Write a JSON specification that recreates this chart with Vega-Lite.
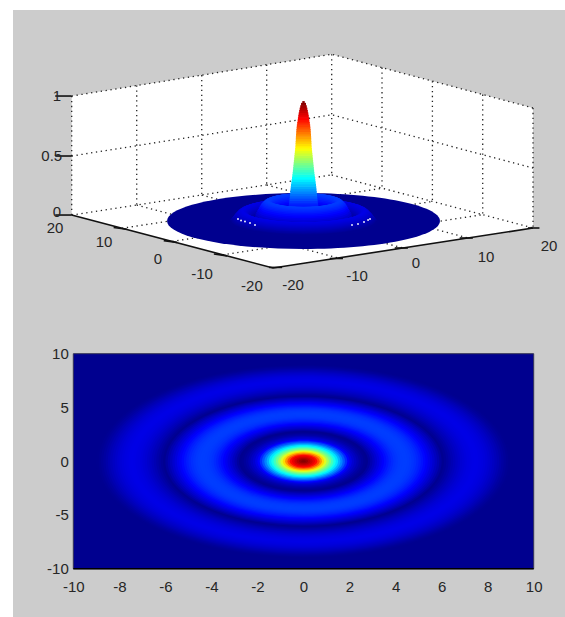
{"$schema":"https://vega.github.io/schema/vega-lite/v6.json","width":552,"height":607,"autosize":"none","padding":{"left":13,"top":10,"right":0,"bottom":0},"background":"white","view":{"fill":"#cccccc","stroke":null},
"config":{"axis":{"grid":false,"domain":false,"ticks":false,"labelFont":"Liberation Sans","labelFontSize":15,"labelColor":"#262626","title":null,"labelOverlap":false,"labelFlush":false}},
"datasets":{"profile":[{"r":16.6,"v":0},{"r":9.0,"v":0.001},{"r":8.9,"v":0.005},{"r":8.8,"v":0.011},{"r":8.7,"v":0.018},{"r":8.6,"v":0.026},{"r":8.5,"v":0.034},{"r":8.4,"v":0.042},{"r":8.3,"v":0.05},{"r":8.2,"v":0.057},{"r":8.1,"v":0.064},{"r":8.0,"v":0.07},{"r":7.9,"v":0.075},{"r":7.8,"v":0.079},{"r":7.7,"v":0.082},{"r":7.6,"v":0.084},{"r":7.5,"v":0.085},{"r":7.4,"v":0.084},{"r":7.3,"v":0.082},{"r":7.2,"v":0.08},{"r":7.1,"v":0.076},{"r":7.0,"v":0.071},{"r":6.9,"v":0.066},{"r":6.8,"v":0.059},{"r":6.7,"v":0.052},{"r":6.6,"v":0.044},{"r":6.5,"v":0.036},{"r":6.4,"v":0.027},{"r":6.3,"v":0.018},{"r":6.2,"v":0.009},{"r":6.1,"v":0.002},{"r":6.0,"v":0.016},{"r":5.9,"v":0.032},{"r":5.8,"v":0.047},{"r":5.7,"v":0.062},{"r":5.6,"v":0.076},{"r":5.5,"v":0.09},{"r":5.4,"v":0.103},{"r":5.3,"v":0.116},{"r":5.2,"v":0.127},{"r":5.1,"v":0.137},{"r":5.0,"v":0.146},{"r":4.9,"v":0.154},{"r":4.8,"v":0.16},{"r":4.7,"v":0.165},{"r":4.6,"v":0.168},{"r":4.5,"v":0.17},{"r":4.4,"v":0.17},{"r":4.3,"v":0.169},{"r":4.2,"v":0.167},{"r":4.1,"v":0.163},{"r":4.0,"v":0.158},{"r":3.9,"v":0.15},{"r":3.8,"v":0.141},{"r":3.7,"v":0.131},{"r":3.6,"v":0.12},{"r":3.5,"v":0.107},{"r":3.4,"v":0.094},{"r":3.3,"v":0.08},{"r":3.2,"v":0.065},{"r":3.1,"v":0.049},{"r":3.0,"v":0.033},{"r":2.9,"v":0.016},{"r":2.8,"v":0.001},{"r":2.7,"v":0.004},{"r":2.6,"v":0.012},{"r":2.5,"v":0.022},{"r":2.4,"v":0.035},{"r":2.3,"v":0.05},{"r":2.2,"v":0.065},{"r":2.1,"v":0.085},{"r":2.0,"v":0.11},{"r":1.9,"v":0.15},{"r":1.8,"v":0.195},{"r":1.7,"v":0.24},{"r":1.6,"v":0.285},{"r":1.5,"v":0.335},{"r":1.4,"v":0.38},{"r":1.3,"v":0.425},{"r":1.2,"v":0.47},{"r":1.1,"v":0.52},{"r":1.0,"v":0.575},{"r":0.9,"v":0.645},{"r":0.8,"v":0.715},{"r":0.7,"v":0.785},{"r":0.6,"v":0.85},{"r":0.5,"v":0.885},{"r":0.4,"v":0.915},{"r":0.3,"v":0.945},{"r":0.2,"v":0.975},{"r":0.1,"v":0.995}],
"peak":[{"z":0.0,"w":2.1,"n":-2.1},{"z":0.02,"w":2.05,"n":-2.05},{"z":0.04,"w":2.0,"n":-2.0},{"z":0.06,"w":1.95,"n":-1.95},{"z":0.08,"w":1.9,"n":-1.9},{"z":0.1,"w":1.86,"n":-1.86},{"z":0.12,"w":1.82,"n":-1.82},{"z":0.14,"w":1.78,"n":-1.78},{"z":0.16,"w":1.74,"n":-1.74},{"z":0.18,"w":1.7,"n":-1.7},{"z":0.2,"w":1.67,"n":-1.67},{"z":0.22,"w":1.64,"n":-1.64},{"z":0.24,"w":1.61,"n":-1.61},{"z":0.26,"w":1.58,"n":-1.58},{"z":0.28,"w":1.55,"n":-1.55},{"z":0.3,"w":1.52,"n":-1.52},{"z":0.32,"w":1.48,"n":-1.48},{"z":0.34,"w":1.44,"n":-1.44},{"z":0.36,"w":1.4,"n":-1.4},{"z":0.38,"w":1.36,"n":-1.36},{"z":0.4,"w":1.32,"n":-1.32},{"z":0.42,"w":1.29,"n":-1.29},{"z":0.44,"w":1.26,"n":-1.26},{"z":0.46,"w":1.23,"n":-1.23},{"z":0.48,"w":1.2,"n":-1.2},{"z":0.5,"w":1.17,"n":-1.17},{"z":0.52,"w":1.14,"n":-1.14},{"z":0.54,"w":1.11,"n":-1.11},{"z":0.56,"w":1.08,"n":-1.08},{"z":0.58,"w":1.05,"n":-1.05},{"z":0.6,"w":1.02,"n":-1.02},{"z":0.62,"w":0.99,"n":-0.99},{"z":0.64,"w":0.97,"n":-0.97},{"z":0.66,"w":0.96,"n":-0.96},{"z":0.68,"w":0.94,"n":-0.94},{"z":0.7,"w":0.93,"n":-0.93},{"z":0.72,"w":0.91,"n":-0.91},{"z":0.74,"w":0.89,"n":-0.89},{"z":0.76,"w":0.87,"n":-0.87},{"z":0.78,"w":0.84,"n":-0.84},{"z":0.8,"w":0.81,"n":-0.81},{"z":0.82,"w":0.77,"n":-0.77},{"z":0.84,"w":0.72,"n":-0.72},{"z":0.86,"w":0.68,"n":-0.68},{"z":0.88,"w":0.64,"n":-0.64},{"z":0.9,"w":0.59,"n":-0.59},{"z":0.92,"w":0.53,"n":-0.53},{"z":0.94,"w":0.47,"n":-0.47},{"z":0.96,"w":0.4,"n":-0.4},{"z":0.98,"w":0.3,"n":-0.3},{"z":0.995,"w":0.15,"n":-0.15}]},
"layer":[
{"data":{"values":[{"u":-28.2,"z":1.05,"z2":0.05},{"u":-3.71,"z":1.322,"z2":-0.395},{"u":3.43,"z":1.401,"z2":-0.319},{"u":27.92,"z":0.95,"z2":-0.059}]},"mark":{"type":"area","color":"white","opacity":1},"encoding":{"x":{"field":"u","type":"quantitative","scale":{"domain":[-35.34,31.81],"nice":false,"zero":false},"axis":null},"y":{"field":"z","type":"quantitative","scale":{"domain":[-3.328,1.773],"nice":false,"zero":false},"axis":null},"y2":{"field":"z2"}}},
{"data":{"values":[{"g":"top","u":-28.2,"z":1.05},{"g":"top","u":3.43,"z":1.401},{"g":"top","u":27.92,"z":0.95},{"g":"l0","u":-28.2,"z":1.05},{"g":"l0","u":-28.2,"z":0.05},{"g":"l1","u":-20.29,"z":1.138},{"g":"l1","u":-20.29,"z":0.134},{"g":"l2","u":-12.38,"z":1.226},{"g":"l2","u":-12.38,"z":0.218},{"g":"l3","u":-4.48,"z":1.313},{"g":"l3","u":-4.48,"z":0.303},{"g":"l4","u":3.43,"z":1.401},{"g":"l4","u":3.43,"z":0.387},{"g":"r1","u":9.55,"z":1.289},{"g":"r1","u":9.55,"z":0.275},{"g":"r2","u":15.68,"z":1.175},{"g":"r2","u":15.68,"z":0.164},{"g":"r3","u":21.8,"z":1.062},{"g":"r3","u":21.8,"z":0.053},{"g":"r4","u":27.92,"z":0.95},{"g":"r4","u":27.92,"z":-0.059},{"g":"h","u":-28.2,"z":0.546},{"g":"h","u":3.43,"z":0.893},{"g":"h","u":27.92,"z":0.445},{"g":"y20","u":-28.2,"z":0.05},{"g":"y20","u":3.43,"z":0.387},{"g":"y10","u":-22.08,"z":-0.061},{"g":"y10","u":9.55,"z":0.275},{"g":"y0","u":-15.95,"z":-0.172},{"g":"y0","u":15.68,"z":0.164},{"g":"ym10","u":-9.83,"z":-0.284},{"g":"ym10","u":21.8,"z":0.053},{"g":"xm10","u":-20.29,"z":0.134},{"g":"xm10","u":4.2,"z":-0.311},{"g":"x0","u":-12.38,"z":0.218},{"g":"x0","u":12.1,"z":-0.227},{"g":"x10","u":-4.48,"z":0.303},{"g":"x10","u":20.01,"z":-0.143},{"g":"x20","u":3.43,"z":0.387},{"g":"x20","u":27.92,"z":-0.059}]},"mark":{"type":"line","color":"#222222","strokeWidth":1.3,"strokeDash":[1.3,3.6]},"encoding":{"x":{"field":"u","type":"quantitative","scale":{"domain":[-35.34,31.81],"nice":false,"zero":false},"axis":null},"y":{"field":"z","type":"quantitative","scale":{"domain":[-3.328,1.773],"nice":false,"zero":false},"axis":null},"detail":{"field":"g"}}},
{"data":{"values":[{"g":"a","u":-28.2,"z":0.05},{"g":"a","u":-3.71,"z":-0.395},{"g":"a","u":27.92,"z":-0.059},{"g":"t1","u":-30.2,"z":1.05},{"g":"t1","u":-28.2,"z":1.05},{"g":"t2","u":-30.2,"z":0.546},{"g":"t2","u":-28.2,"z":0.546},{"g":"t3","u":-30.2,"z":0.05},{"g":"t3","u":-28.2,"z":0.05},{"g":"t4","u":-23.1,"z":-0.055},{"g":"t4","u":-21.5,"z":-0.07},{"g":"t5","u":-17,"z":-0.165},{"g":"t5","u":-15.4,"z":-0.18},{"g":"t6","u":-10.9,"z":-0.278},{"g":"t6","u":-9.3,"z":-0.293},{"g":"t7","u":-4.2,"z":-0.39},{"g":"t7","u":-2.6,"z":-0.39},{"g":"t8","u":3.2,"z":-0.315},{"g":"t8","u":4.8,"z":-0.315},{"g":"t9","u":11.1,"z":-0.227},{"g":"t9","u":12.7,"z":-0.227},{"g":"t10","u":19,"z":-0.143},{"g":"t10","u":20.6,"z":-0.143},{"g":"t11","u":27.3,"z":-0.059},{"g":"t11","u":28.7,"z":-0.059}]},"mark":{"type":"line","color":"#111111","strokeWidth":1.6},"encoding":{"x":{"field":"u","type":"quantitative","scale":{"domain":[-35.34,31.81],"nice":false,"zero":false},"axis":null},"y":{"field":"z","type":"quantitative","scale":{"domain":[-3.328,1.773],"nice":false,"zero":false},"axis":null},"detail":{"field":"g"}}},
{"data":{"name":"profile"},"transform":[{"filter":"datum.r>=2.7"}],"mark":{"type":"point","filled":true,"opacity":1,"strokeWidth":0,"shape":"M1,0 C1,.1132 .5523,.205 0,.205 C-.5523,.205 -1,.1132 -1,0 C-1,-.1132 -.5523,-.205 0,-.205 C.5523,-.205 1,-.1132 1,0 Z"},"encoding":{"x":{"datum":0,"type":"quantitative","scale":{"domain":[-35.34,31.81],"nice":false,"zero":false},"axis":null},"y":{"field":"v","type":"quantitative","scale":{"domain":[-3.328,1.773],"nice":false,"zero":false},"axis":null},"size":{"field":"r","type":"quantitative","scale":{"type":"pow","exponent":2,"domain":[0,20],"range":[0,108109]},"legend":null},"color":{"field":"v","type":"quantitative","scale":{"interpolate":"rgb","domain":[0,0.11,0.36,0.61,0.86,1],"range":["#00008f","#0000ff","#00ffff","#ffff00","#ff0000","#800000"]},"legend":null}}},
{"data":{"name":"peak"},"mark":{"type":"rule","strokeWidth":3},"encoding":{"x":{"field":"w","type":"quantitative","scale":{"domain":[-35.34,31.81],"nice":false,"zero":false},"axis":null},"x2":{"field":"n"},"y":{"field":"z","type":"quantitative","scale":{"domain":[-3.328,1.773],"nice":false,"zero":false},"axis":null},"color":{"field":"z","type":"quantitative","scale":{"interpolate":"rgb","domain":[0,0.11,0.36,0.61,0.86,1],"range":["#00008f","#0000ff","#00ffff","#ffff00","#ff0000","#800000"]},"legend":null}}},
{"data":{"name":"profile"},"transform":[{"filter":"datum.r>=2.8 && datum.r<10"}],"mark":{"type":"point","filled":false,"opacity":1,"strokeWidth":2.6,"shape":"M1,0 C1,.1132 .5523,.205 0,.205 C-.5523,.205 -1,.1132 -1,0"},"encoding":{"x":{"datum":0,"type":"quantitative","scale":{"domain":[-35.34,31.81],"nice":false,"zero":false},"axis":null},"y":{"field":"v","type":"quantitative","scale":{"domain":[-3.328,1.773],"nice":false,"zero":false},"axis":null},"size":{"field":"r","type":"quantitative","scale":{"type":"pow","exponent":2,"domain":[0,20],"range":[0,108109]},"legend":null},"order":{"field":"r","type":"quantitative","sort":"ascending"},"color":{"field":"v","type":"quantitative","scale":{"interpolate":"rgb","domain":[0,0.11,0.36,0.61,0.86,1],"range":["#00008f","#0000ff","#00ffff","#ffff00","#ff0000","#800000"]},"legend":null}}},
{"data":{"values":[{"u":-7.97,"z":0.017},{"u":-7.6,"z":0.004},{"u":-7.12,"z":-0.004},{"u":-6.51,"z":-0.017},{"u":-5.9,"z":-0.034},{"u":5.9,"z":-0.034},{"u":6.63,"z":-0.025},{"u":7.36,"z":-0.008},{"u":7.85,"z":0.008},{"u":8.09,"z":0.017}]},"mark":{"type":"point","filled":true,"color":"white","opacity":0.9,"size":4},"encoding":{"x":{"field":"u","type":"quantitative","scale":{"domain":[-35.34,31.81],"nice":false,"zero":false},"axis":null},"y":{"field":"z","type":"quantitative","scale":{"domain":[-3.328,1.773],"nice":false,"zero":false},"axis":null}}},
{"data":{"values":[{"t":"1","u":-29.99,"z":1.05},{"t":"0.5","u":-30.63,"z":0.546},{"t":"0","u":-29.99,"z":0.076},{"t":"20","u":-30.23,"z":-0.059},{"t":"10","u":-24.27,"z":-0.176},{"t":"0","u":-17.7,"z":-0.319},{"t":"-10","u":-12.35,"z":-0.445},{"t":"-20","u":-6.27,"z":-0.546},{"t":"-20","u":-1.28,"z":-0.538},{"t":"-10","u":6.51,"z":-0.462},{"t":"0","u":13.69,"z":-0.353},{"t":"10","u":22.2,"z":-0.303},{"t":"20","u":29.87,"z":-0.21}]},"mark":{"type":"text","font":"Liberation Sans","fontSize":15,"color":"#262626","baseline":"middle","align":"center"},"encoding":{"x":{"field":"u","type":"quantitative","scale":{"domain":[-35.34,31.81],"nice":false,"zero":false},"axis":null},"y":{"field":"z","type":"quantitative","scale":{"domain":[-3.328,1.773],"nice":false,"zero":false},"axis":null},"text":{"field":"t"}}},
{"data":{"values":[{"x":-10,"x2":10,"y":-10,"y2":10}]},"mark":{"type":"rect","color":"#00008f","stroke":"#333355","strokeWidth":1},"encoding":{"x":{"field":"x","type":"quantitative","scale":{"domain":[-12.62,11.36],"nice":false,"zero":false},"axis":{"orient":"bottom","offset":-48.3,"values":[-10,-8,-6,-4,-2,0,2,4,6,8,10],"labelExpr":"''+datum.value","labelPadding":11,"labelBaseline":"top","labelAlign":"center"}},"x2":{"field":"x2"},"y":{"field":"y","type":"quantitative","scale":{"domain":[-14.49,41.97],"nice":false,"zero":false},"axis":{"orient":"left","offset":-60.3,"values":[-10,-5,0,5,10],"labelExpr":"''+datum.value","labelPadding":5}},"y2":{"field":"y2"}}},
{"data":{"name":"profile"},"transform":[{"filter":"datum.r<10"}],"mark":{"type":"point","filled":true,"opacity":1,"strokeWidth":0,"shape":"M1,0 C1,.258 .5523,.467 0,.467 C-.5523,.467 -1,.258 -1,0 C-1,-.258 -.5523,-.467 0,-.467 C.5523,-.467 1,-.258 1,0 Z"},"encoding":{"x":{"datum":0,"type":"quantitative","scale":{"domain":[-12.62,11.36],"nice":false,"zero":false},"axis":null},"y":{"datum":0,"type":"quantitative","scale":{"domain":[-14.49,41.97],"nice":false,"zero":false},"axis":null},"size":{"field":"r","type":"quantitative","scale":{"type":"pow","exponent":2,"domain":[0,10],"range":[0,211968]},"legend":null},"color":{"field":"v","type":"quantitative","scale":{"interpolate":"rgb","domain":[0,0.11,0.36,0.61,0.86,1],"range":["#00008f","#0000ff","#00ffff","#ffff00","#ff0000","#800000"]},"legend":null}}},
{"data":{"values":[{"x":-10,"y":-10},{"x":10,"y":-10}]},"mark":{"type":"line","color":"#000000","strokeWidth":1.5},"encoding":{"x":{"field":"x","type":"quantitative","scale":{"domain":[-12.62,11.36],"nice":false,"zero":false},"axis":null},"y":{"field":"y","type":"quantitative","scale":{"domain":[-14.49,41.97],"nice":false,"zero":false},"axis":null}}}
],"resolve":{"scale":{"x":"independent","y":"independent","size":"independent"}}}
